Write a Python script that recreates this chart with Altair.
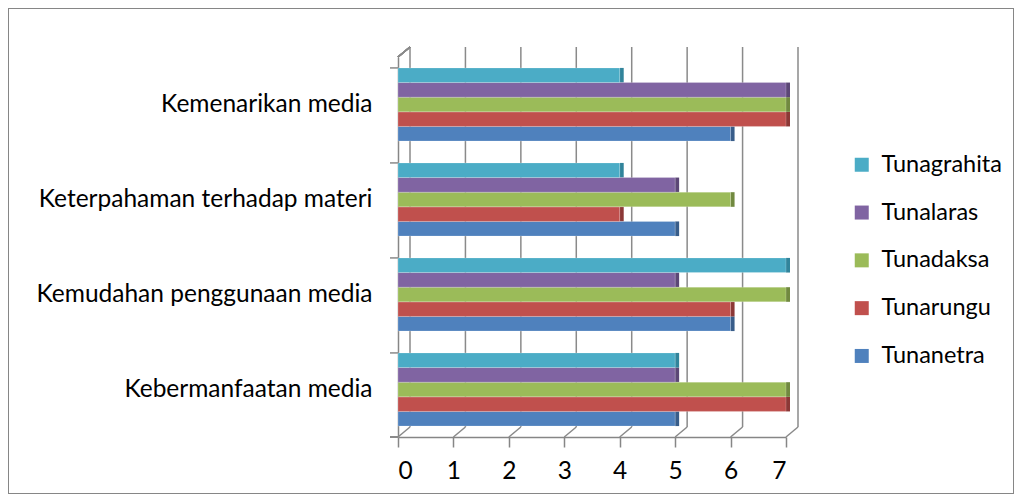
import altair as alt
import pandas as pd

categories = ["Kebermanfaatan media", "Kemudahan penggunaan media",
              "Keterpahaman terhadap materi", "Kemenarikan media"]
series = ["Tunanetra", "Tunarungu", "Tunadaksa", "Tunalaras", "Tunagrahita"]
colors = ["#4F81BD", "#C0504D", "#9BBB59", "#8064A2", "#4BACC6"]
side_colors = ["#385D8A", "#8C3836", "#71893F", "#5C4776", "#31849B"]
tunanetra = [5, 6, 5, 6]
tunarungu = [7, 6, 4, 7]
tunadaksa = [7, 7, 6, 7]
tunalaras = [5, 5, 5, 7]
tunagrahita = [5, 7, 4, 4]
ticks = [0, 1, 2, 3, 4, 5, 6, 7]

values = [tunanetra, tunarungu, tunadaksa, tunalaras, tunagrahita]
rows = []
for s, vals in zip(series, values):
    for c, v in zip(categories, vals):
        rows.append({"kategori": c, "seri": s, "nilai": v})
df = pd.DataFrame(rows)
grid_df = pd.DataFrame({"t": ticks})
cat_df = pd.DataFrame({"kategori": categories})

FONT = "Lato"
FS = 24.5
W, H = 388, 380
PL, PT = 390, 49
TOTW, TOTH = 1006, 486

cat_order = list(reversed(categories))
ser_order = list(reversed(series))

yscale = alt.Scale(domain=cat_order, paddingInner=0.23, paddingOuter=0.115)
xscale = alt.Scale(domain=[0, 7], nice=False)

grid_back = alt.Chart(grid_df).mark_rule(color="#8a8a8a", strokeWidth=1.5, xOffset=12).encode(
    x=alt.X("t:Q", scale=xscale), y=alt.value(-10), y2=alt.value(H - 10))
grid_diag = alt.Chart(grid_df).mark_rule(color="#8a8a8a", strokeWidth=1.5, xOffset=12, x2Offset=0).encode(
    x=alt.X("t:Q", scale=xscale), x2="t:Q", y=alt.value(H - 10), y2=alt.value(H))
top_diag = alt.Chart(grid_df).mark_rule(color="#8a8a8a", strokeWidth=1.5).encode(
    x=alt.value(0), x2=alt.value(12), y=alt.value(0), y2=alt.value(-10))
left_ticks = alt.Chart(cat_df).mark_rule(color="#8a8a8a", strokeWidth=1.5).encode(
    x=alt.value(-8), x2=alt.value(0),
    y=alt.Y("kategori:N", scale=yscale, bandPosition=0, title=None))
bottom_tick = alt.Chart(grid_df).mark_rule(color="#8a8a8a", strokeWidth=1.5).encode(
    x=alt.value(-8), x2=alt.value(0), y=alt.value(H))

bars = alt.Chart(df).mark_bar(stroke="#ffffff", strokeOpacity=0.35, strokeWidth=0.6).encode(
    y=alt.Y("kategori:N", scale=yscale, title=None),
    yOffset=alt.YOffset("seri:N", sort=ser_order),
    x=alt.X("nilai:Q", scale=xscale, title=None,
            axis=alt.Axis(values=ticks, grid=False, format="d")),
    color=alt.Color("seri:N", sort=ser_order,
                    scale=alt.Scale(domain=series, range=colors),
                    legend=alt.Legend(title=None, orient="none", legendX=452, legendY=96,
                                      symbolType="square", symbolSize=196,
                                      symbolStrokeWidth=0, labelFontSize=23.5,
                                      labelFont=FONT, labelColor="#000000",
                                      labelOffset=8, rowPadding=22.8, padding=0,
                                      values=ser_order)),
)

sides = alt.Chart(df).mark_bar(x2Offset=4).encode(
    y=alt.Y("kategori:N", scale=yscale, title=None),
    yOffset=alt.YOffset("seri:N", sort=ser_order),
    x=alt.X("nilai:Q", scale=xscale, title=None),
    x2="nilai:Q",
    color=alt.Color("seri:N", scale=alt.Scale(domain=series, range=side_colors), legend=None),
)

border = alt.Chart(grid_df).mark_rect(filled=False, stroke="#868686", strokeWidth=1).encode(
    x=alt.value(-PL + 0.5), x2=alt.value(TOTW - PL - 0.5),
    y=alt.value(-PT + 0.5), y2=alt.value(TOTH - PT - 0.5))

chart = alt.layer(border, grid_back, grid_diag, top_diag, left_ticks, bottom_tick, sides, bars).resolve_scale(
    color="independent"
).properties(
    width=W, height=H,
    autosize=alt.AutoSizeParams(type="none"),
    padding={"left": PL, "top": PT, "right": TOTW - PL - W, "bottom": TOTH - PT - H},
    background="#ffffff",
).configure_view(stroke=None).configure_axisY(
    ticks=False, labelPadding=26, labelFontSize=FS, labelFont=FONT,
    labelColor="#000000", labelLimit=400, domainColor="#868686", domainWidth=1.5,
    title=None
).configure_axisX(
    grid=False, tickSize=10, tickColor="#868686", tickWidth=1.5,
    domainColor="#868686", domainWidth=1.5, labelFontSize=FS, labelFont=FONT,
    labelColor="#000000", labelPadding=12, title=None
)

chart.save("out.html", embed_options={"renderer": "svg", "actions": False})
